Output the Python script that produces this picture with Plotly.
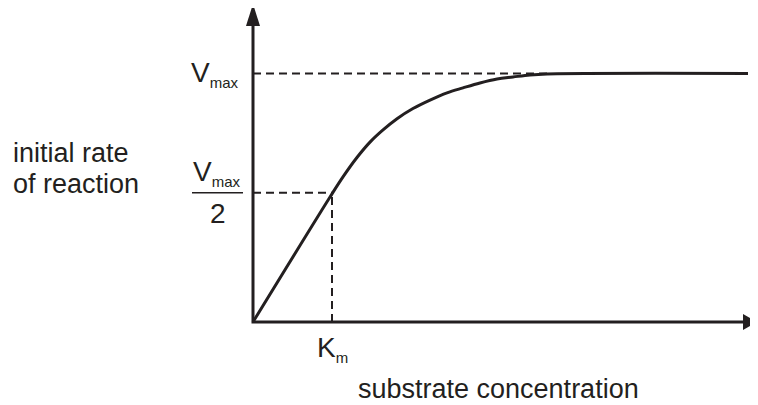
import plotly.graph_objects as go

# ---- data (Km = 1, Vmax = 1 units) ----
curve_x = [0.0, 0.975, 1.139, 1.316, 1.481, 1.646, 1.823, 2.025, 2.241, 2.456,
           2.658, 2.873, 3.089, 3.291, 3.506, 3.722, 6.266]
curve_y = [0.0, 0.503, 0.584, 0.662, 0.724, 0.773, 0.818, 0.859, 0.893, 0.922,
           0.942, 0.962, 0.978, 0.986, 0.994, 0.998, 1.0]
VMAX = 1.0
VHALF = 0.52
KM = 1.0
VMAX_REACHED_X = 3.722
Y_AXIS_TOP = 1.28
X_AXIS_END = 6.38

y_label_lines = ["initial rate", "of reaction"]
x_label = "substrate concentration"
vmax_label = "V<sub><span style='font-size:15px'>max</span></sub>"
km_label = "K<sub><span style='font-size:15px'>m</span></sub>"
two_label = "2"

INK = "#231f20"
FONT = "Liberation Sans, Arial, sans-serif"

# page body has an 8px margin: the figure starts at (8, 8) in the window
OFF = 8
W, H = 758 - OFF, 405 - OFF
X0_PX, Y0_PX = 253 - OFF, 322 - OFF     # origin in figure pixels
PX_PER_X, PX_PER_Y = 79.0, 248.5
x_range = [-X0_PX / PX_PER_X, (W - X0_PX) / PX_PER_X]
y_range = [(Y0_PX - H) / PX_PER_Y, Y0_PX / PX_PER_Y]

dash = dict(color=INK, width=2, dash="8px,5px")

fig = go.Figure()
# dashed guide lines
fig.add_trace(go.Scatter(x=[0, VMAX_REACHED_X], y=[VMAX, VMAX], mode="lines", line=dash))
fig.add_trace(go.Scatter(x=[0, KM], y=[VHALF, VHALF], mode="lines", line=dash))
fig.add_trace(go.Scatter(x=[KM, KM], y=[0, VHALF], mode="lines", line=dash))
# axes
fig.add_trace(go.Scatter(x=[0, 0, X_AXIS_END - 0.1], y=[Y_AXIS_TOP - 0.05, 0, 0],
                         mode="lines", line=dict(color=INK, width=3)))
# curve
fig.add_trace(go.Scatter(x=curve_x, y=curve_y, mode="lines",
                         line=dict(color=INK, width=3, shape="spline", smoothing=1.0)))

shapes = [
    dict(type="path", xref="x", yref="y", xsizemode="pixel", ysizemode="pixel",
         xanchor=0, yanchor=Y_AXIS_TOP, path="M -7,-22 L 7,-22 L 0,0 Z",
         fillcolor=INK, line=dict(width=0)),
    dict(type="path", xref="x", yref="y", xsizemode="pixel", ysizemode="pixel",
         xanchor=X_AXIS_END, yanchor=0, path="M -14,8 L -14,-8 L 0,0 Z",
         fillcolor=INK, line=dict(width=0)),
    # fraction bar of Vmax/2
    dict(type="line", xref="x", yref="y", xsizemode="pixel", ysizemode="pixel",
         xanchor=0, yanchor=VHALF, x0=-61, x1=-10, y0=0, y1=0,
         line=dict(color=INK, width=1.5)),
]

ann = []
def px_paper(px, py):
    return (px - OFF) / W, 1 - (py - OFF) / H

# y label (two lines)
for txt, py in zip(y_label_lines, [153, 184]):
    x, y = px_paper(11, py)
    ann.append(dict(text=txt, x=x, y=y, xref="paper", yref="paper",
                    xanchor="left", yanchor="middle", showarrow=False,
                    font=dict(size=27, color=INK, family=FONT)))
# x label
x, y = px_paper(498, 389)
ann.append(dict(text=x_label, x=x, y=y, xref="paper", yref="paper",
                xanchor="center", yanchor="middle", showarrow=False,
                font=dict(size=27, color=INK, family=FONT)))
# Vmax tick label
ann.append(dict(text=vmax_label, x=0, y=VMAX, xref="x", yref="y", xshift=-38,
                xanchor="center", yanchor="middle", showarrow=False,
                font=dict(size=28, color=INK, family=FONT)))
# Vmax/2 label
ann.append(dict(text=vmax_label, x=0, y=VHALF, xref="x", yref="y", xshift=-36,
                yshift=1, xanchor="center", yanchor="bottom", showarrow=False,
                font=dict(size=28, color=INK, family=FONT)))
ann.append(dict(text=two_label, x=0, y=VHALF, xref="x", yref="y", xshift=-35.5,
                yshift=-3, xanchor="center", yanchor="top", showarrow=False,
                font=dict(size=28, color=INK, family=FONT)))
# Km label
ann.append(dict(text=km_label, x=KM, y=0, xref="x", yref="y", xshift=0,
                yshift=-8, xanchor="center", yanchor="top", showarrow=False,
                font=dict(size=28, color=INK, family=FONT)))

fig.update_layout(
    width=W, height=H, margin=dict(l=0, r=0, t=0, b=0),
    paper_bgcolor="white", plot_bgcolor="white",
    showlegend=False, hovermode=False,
    xaxis=dict(range=x_range, visible=False, fixedrange=True),
    yaxis=dict(range=y_range, visible=False, fixedrange=True),
    shapes=shapes, annotations=ann,
)

fig.write_html("out.html", config={"displayModeBar": False})
